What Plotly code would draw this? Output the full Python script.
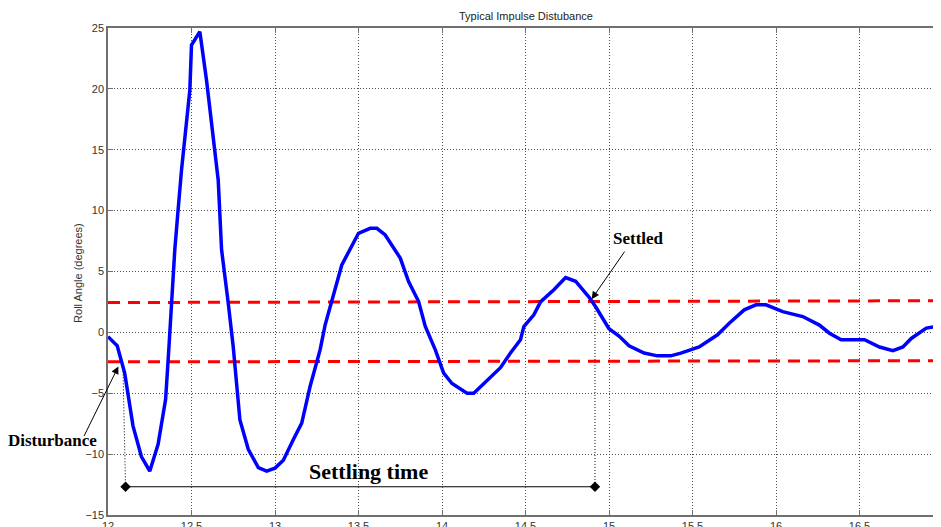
import plotly.graph_objects as go

# Roll angle response (time in s, angle in degrees)
time_s = [12.0, 12.04, 12.055, 12.10, 12.15, 12.20, 12.25, 12.30, 12.345, 12.365,
          12.40, 12.42, 12.44, 12.49, 12.50, 12.55, 12.59, 12.66, 12.68, 12.72,
          12.75, 12.79, 12.84, 12.90, 12.95, 13.00, 13.05, 13.11, 13.16, 13.21,
          13.27, 13.30, 13.34, 13.40, 13.50, 13.57, 13.61, 13.66, 13.75, 13.80,
          13.86, 13.90, 13.96, 14.01, 14.06, 14.15, 14.19, 14.25, 14.35, 14.41,
          14.47, 14.49, 14.55, 14.59, 14.67, 14.74, 14.80, 14.88, 14.92, 15.00,
          15.06, 15.12, 15.21, 15.29, 15.37, 15.43, 15.54, 15.65, 15.72, 15.81,
          15.88, 15.94, 16.04, 16.16, 16.26, 16.32, 16.39, 16.53, 16.62, 16.70,
          16.76, 16.81, 16.90, 17.0]
roll_deg = [-0.35, -0.95, -1.1, -3.35, -7.7, -10.2, -11.4, -9.2, -5.5, -1.2,
            6.8, 10.1, 13.3, 19.9, 23.6, 24.7, 20.7, 12.5, 6.8, 2.4,
            -1.2, -7.2, -9.6, -11.1, -11.4, -11.15, -10.5, -8.8, -7.45, -4.45,
            -1.44, 0.6, 2.53, 5.54, 8.14, 8.55, 8.55, 8.0, 6.1, 4.17,
            2.53, 0.48, -1.44, -3.35, -4.2, -5.0, -5.0, -4.2, -2.9, -1.7,
            -0.6, 0.48, 1.44, 2.5, 3.5, 4.5, 4.2, 2.9, 2.1, 0.3,
            -0.3, -1.1, -1.7, -1.93, -1.93, -1.7, -1.2, -0.2, 0.75, 1.85,
            2.26, 2.26, 1.7, 1.3, 0.6, -0.07, -0.6, -0.6, -1.2, -1.5,
            -1.2, -0.5, 0.35, 0.57]

# Settling band (+/- limits)
band_x = [12.0, 17.0]
band_upper = [2.45, 2.6]
band_lower = [-2.42, -2.33]

# Settling time markers
settle_start = 12.105
settle_end = 14.916
settle_level = -12.68
settle_x = [settle_start, settle_end]
settle_y = [settle_level, settle_level]
drop_left_x = [12.09, settle_start]
drop_left_y = [-3.2, settle_level]
drop_right_x = [settle_end, settle_end]
drop_right_y = [2.5, settle_level]

x_ticks = [12, 12.5, 13, 13.5, 14, 14.5, 15, 15.5, 16, 16.5, 17]
x_tick_text = ["12", "12.5", "13", "13.5", "14", "14.5", "15", "15.5", "16", "16.5", "17"]
y_ticks = [-15, -10, -5, 0, 5, 10, 15, 20, 25]

fig = go.Figure()

dot_style = dict(color="black", width=1, dash="1px,2px")
fig.add_trace(go.Scatter(x=drop_left_x, y=drop_left_y, mode="lines", line=dot_style,
                         hoverinfo="skip"))
fig.add_trace(go.Scatter(x=drop_right_x, y=drop_right_y, mode="lines", line=dot_style,
                         hoverinfo="skip"))
fig.add_trace(go.Scatter(x=band_x, y=band_upper, mode="lines",
                         line=dict(color="#FF0000", width=3, dash="12px,8px")))
fig.add_trace(go.Scatter(x=band_x, y=band_lower, mode="lines",
                         line=dict(color="#FF0000", width=3, dash="12px,8px")))
fig.add_trace(go.Scatter(x=time_s, y=roll_deg, mode="lines",
                         line=dict(color="#0000FF", width=3.5)))
fig.add_trace(go.Scatter(x=settle_x, y=settle_y, mode="lines+markers",
                         line=dict(color="black", width=1),
                         marker=dict(symbol="diamond", size=8, color="black")))

axis_common = dict(showgrid=True, gridcolor="#505050", griddash="1px,2px", gridwidth=1,
                   showline=True, linecolor="#707070", linewidth=1.5, mirror="ticks",
                   ticks="inside", ticklen=5, tickcolor="#707070", zeroline=False,
                   automargin=False,
                   tickfont=dict(family="Liberation Sans, Arial", size=11, color="#333333"))

fig.update_xaxes(range=[12, 17], tickvals=x_ticks, ticktext=x_tick_text, **axis_common)
fig.update_yaxes(range=[-15, 25], tickvals=y_ticks, **axis_common)

serif = "Liberation Serif, Times New Roman, serif"
annotations = [
    dict(text="Typical Impulse Distubance", xref="paper", yref="paper", x=0.5, y=1,
         xanchor="center", yanchor="bottom", yshift=4, showarrow=False,
         font=dict(family="Liberation Sans, Arial", size=11, color="#222222")),
    dict(text="Roll Angle (degrees)", xref="paper", yref="paper", x=-0.036, y=0.497,
         xanchor="center", yanchor="middle", textangle=-90, showarrow=False,
         font=dict(family="Liberation Sans, Arial", size=11, color="#333333")),
    dict(text="<b>Disturbance</b>", xref="paper", yref="paper", x=-0.066, y=0.154,
         xanchor="center", yanchor="middle", showarrow=False,
         font=dict(family=serif, size=17, color="black")),
    dict(text="", x=12.062, y=-2.8, xref="x", yref="y", ax=-35, ay=71, showarrow=True,
         arrowhead=2, arrowsize=1.5, arrowwidth=1, arrowcolor="black", standoff=0),
    dict(text="<b>Settled</b>", x=15.174, y=7.68, xref="x", yref="y", showarrow=False,
         xanchor="center", yanchor="middle",
         font=dict(family=serif, size=17, color="black")),
    dict(text="", x=14.896, y=2.73, xref="x", yref="y", ax=34, ay=-49, showarrow=True,
         arrowhead=2, arrowsize=1.5, arrowwidth=1, arrowcolor="black", standoff=0),
    dict(text="<b>Settling time</b>", x=13.557, y=-11.45, xref="x", yref="y",
         xanchor="center", yanchor="middle",
         showarrow=False, font=dict(family=serif, size=22, color="black")),
]

# The page body adds an 8px offset, so margins are reduced to match the reference frame
fig.update_layout(width=941, height=527, margin=dict(l=100, r=6, t=20, b=20),
                  plot_bgcolor="white", paper_bgcolor="white", showlegend=False,
                  annotations=annotations)

fig.write_html("out.html")
